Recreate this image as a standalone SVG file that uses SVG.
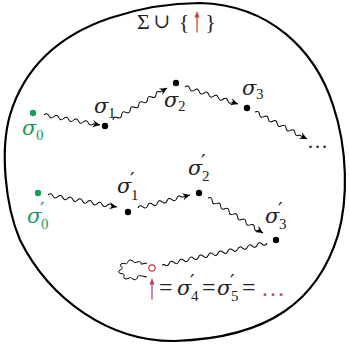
<svg xmlns="http://www.w3.org/2000/svg" width="349" height="348" viewBox="0 0 349 348">
<style>
.t{font-family:"Liberation Serif","DejaVu Serif",serif;font-size:24px;fill:#222}
.s{font-family:"DejaVu Serif",serif;font-style:italic;font-size:21px}
.sub{font-size:15px}
.pr{font-family:"DejaVu Serif",serif;font-size:20px}
.g{fill:#179c5a}
.r{fill:#c0363f}
.ra{fill:#b8303a;stroke:#b8303a;stroke-width:0.5}
.w{fill:none;stroke:#000;stroke-width:1}
.dot{fill:#000}
</style>
<defs>
<marker id="ah" viewBox="-8 -4 9 8" refX="0" refY="0" markerWidth="9" markerHeight="8" markerUnits="userSpaceOnUse" orient="auto">
<path d="M0,0 L-7.5,-3.6 L-5,0 L-7.5,3.6 Z" fill="#000"/>
</marker>
</defs>
<path id="blob" d="M200,3 C270,5 315,50 333,105 C348,150 348,200 338,235 C318,300 270,338 175,341 C110,342 50,300 20,240 C5,205 0,150 10,115 C25,65 60,35 110,18 C140,8 170,3 200,3 Z" fill="none" stroke="#000" stroke-width="2.2"/>
<g id="title" text-anchor="middle">
<text x="143.5" y="29" class="t" style="font-size:22px">Σ</text>
<text x="162" y="28" class="t" style="font-size:20px">∪</text>
<text x="184" y="29" class="t" style="font-size:22px">{</text>
<text class="t ra" transform="translate(197,31) scale(0.75,1.7)" style="font-size:20px">↑</text>
<text x="210.5" y="29" class="t" style="font-size:22px">}</text>
</g>
<g id="connectors">
<path class="w" marker-end="url(#ah)" transform="translate(44,115) rotate(10.1)" d="M0,0 q2.5,-3.5 5,0 t5,0 t5,0 t5,0 t5,0 t5,0 t5,0 t5,0 t5,0 t5,0 l6.9,0"/>
<path class="w" marker-end="url(#ah)" transform="translate(113,120) rotate(-30.65)" d="M0,0 q2.5,-3.5 5,0 t5,0 t5,0 t5,0 t5,0 t5,0 t5,0 t5,0 t5,0 t5,0 t5,0 l7.8,0"/>
<path class="w" marker-end="url(#ah)" transform="translate(185,87) rotate(17.8)" d="M0,0 q2.5,-3.5 5,0 t5,0 t5,0 t5,0 t5,0 t5,0 t5,0 t5,0 t5,0 t5,0 l5.7,0"/>
<path class="w" marker-end="url(#ah)" transform="translate(255,112) rotate(27.4)" d="M0,0 q2.5,-3.5 5,0 t5,0 t5,0 t5,0 t5,0 t5,0 t5,0 t5,0 t5,0 t5,0 l8.6,0"/>
<path class="w" marker-end="url(#ah)" transform="translate(48,195) rotate(9.9)" d="M0,0 q2.5,-3.5 5,0 t5,0 t5,0 t5,0 t5,0 t5,0 t5,0 t5,0 t5,0 t5,0 t5,0 t5,0 t5,0 l5,0"/>
<path class="w" marker-end="url(#ah)" transform="translate(138,208) rotate(-14)" d="M0,0 q2.5,-3.5 5,0 t5,0 t5,0 t5,0 t5,0 t5,0 t5,0 t5,0 t5,0 l8.6,0"/>
<path class="w" marker-end="url(#ah)" transform="translate(208,198) rotate(32.5)" d="M0,0 q2.5,-3.5 5,0 t5,0 t5,0 t5,0 t5,0 t5,0 t5,0 t5,0 t5,0 t5,0 t5,0 t5,0 l5.2,0"/>
<path class="w" transform="translate(267,243) rotate(168.2)" d="M0,0 q2.5,-3.5 5,0 t5,0 t5,0 t5,0 t5,0 t5,0 t5,0 t5,0 t5,0 t5,0 t5,0 t5,0 t5,0 t5,0 t5,0 t5,0 t5,0 t5,0 t5,0 t5,0 t5,0 l2.3,0"/>
<path class="w" d="M147,263 L141.2,264.2 Q141.7,260.8 137.4,262.0 Q134.2,263.9 132.7,261.0 Q129.7,258.4 127.9,261.5 Q127.6,264.6 123.8,263.4 Q119.2,263.3 121.0,266.4 Q123.8,268.7 120,270 Q116.7,272.4 121.0,273.6 Q125.1,273.6 123.8,276.6 Q123.8,280.0 127.9,278.5 Q130.8,276.2 132.7,279.0 Q136.0,281.3 137.4,278.0 Q137.2,275.0 141.2,275.8 L147,277"/>
</g>
<g id="s0">
<circle cx="33" cy="113" r="3.2" class="g"/>
<text class="t s g" x="22" y="135">σ</text><text class="t sub g" x="36" y="140">0</text>
</g>
<g id="s1">
<circle cx="105" cy="126" r="3.2" class="dot"/>
<text class="t s" x="94" y="113">σ</text><text class="t sub" x="108" y="118">1</text>
</g>
<g id="s2">
<circle cx="176" cy="83" r="3.2" class="dot"/>
<text class="t s" x="164" y="107">σ</text><text class="t sub" x="178" y="111">2</text>
</g>
<g id="s3">
<circle cx="247" cy="108" r="3.2" class="dot"/>
<text class="t s" x="242" y="95">σ</text><text class="t sub" x="256" y="99">3</text>
</g>
<g id="dots">
<text class="t" x="307" y="148" style="font-size:21px">…</text>
</g>
<g id="p0">
<circle cx="38" cy="193" r="3.2" class="g"/>
<text class="t s g" x="27" y="223">σ</text><text class="t pr g" x="40" y="217">′</text><text class="t sub g" x="41" y="229">0</text>
</g>
<g id="p1">
<circle cx="128" cy="212" r="3.2" class="dot"/>
<text class="t s" x="117" y="193">σ</text><text class="t pr" x="130" y="187">′</text><text class="t sub" x="131" y="200">1</text>
</g>
<g id="p2">
<circle cx="199" cy="193" r="3.2" class="dot"/>
<text class="t s" x="188" y="175">σ</text><text class="t pr" x="201" y="169">′</text><text class="t sub" x="202" y="181">2</text>
</g>
<g id="p3">
<circle cx="276" cy="240" r="3.2" class="dot"/>
<text class="t s" x="265" y="223">σ</text><text class="t pr" x="278" y="217">′</text><text class="t sub" x="279" y="229">3</text>
</g>
<g id="bottom">
<circle cx="152" cy="268" r="3.2" fill="none" stroke="#c0363f" stroke-width="1.2"/>
<text class="t ra" transform="translate(152,298) scale(0.75,1.7)" text-anchor="middle" style="font-size:20px">↑</text>
<text class="t" x="159" y="295">=</text>
<text class="t s" x="177" y="295">σ</text><text class="t pr" x="190" y="289">′</text><text class="t sub" x="191" y="301">4</text>
<text class="t" x="202" y="295">=</text>
<text class="t s" x="217" y="295">σ</text><text class="t pr" x="230" y="289">′</text><text class="t sub" x="231" y="301">5</text>
<text class="t" x="242" y="295">=</text>
<text class="t r" x="261" y="296">…</text>
</g>
</svg>
